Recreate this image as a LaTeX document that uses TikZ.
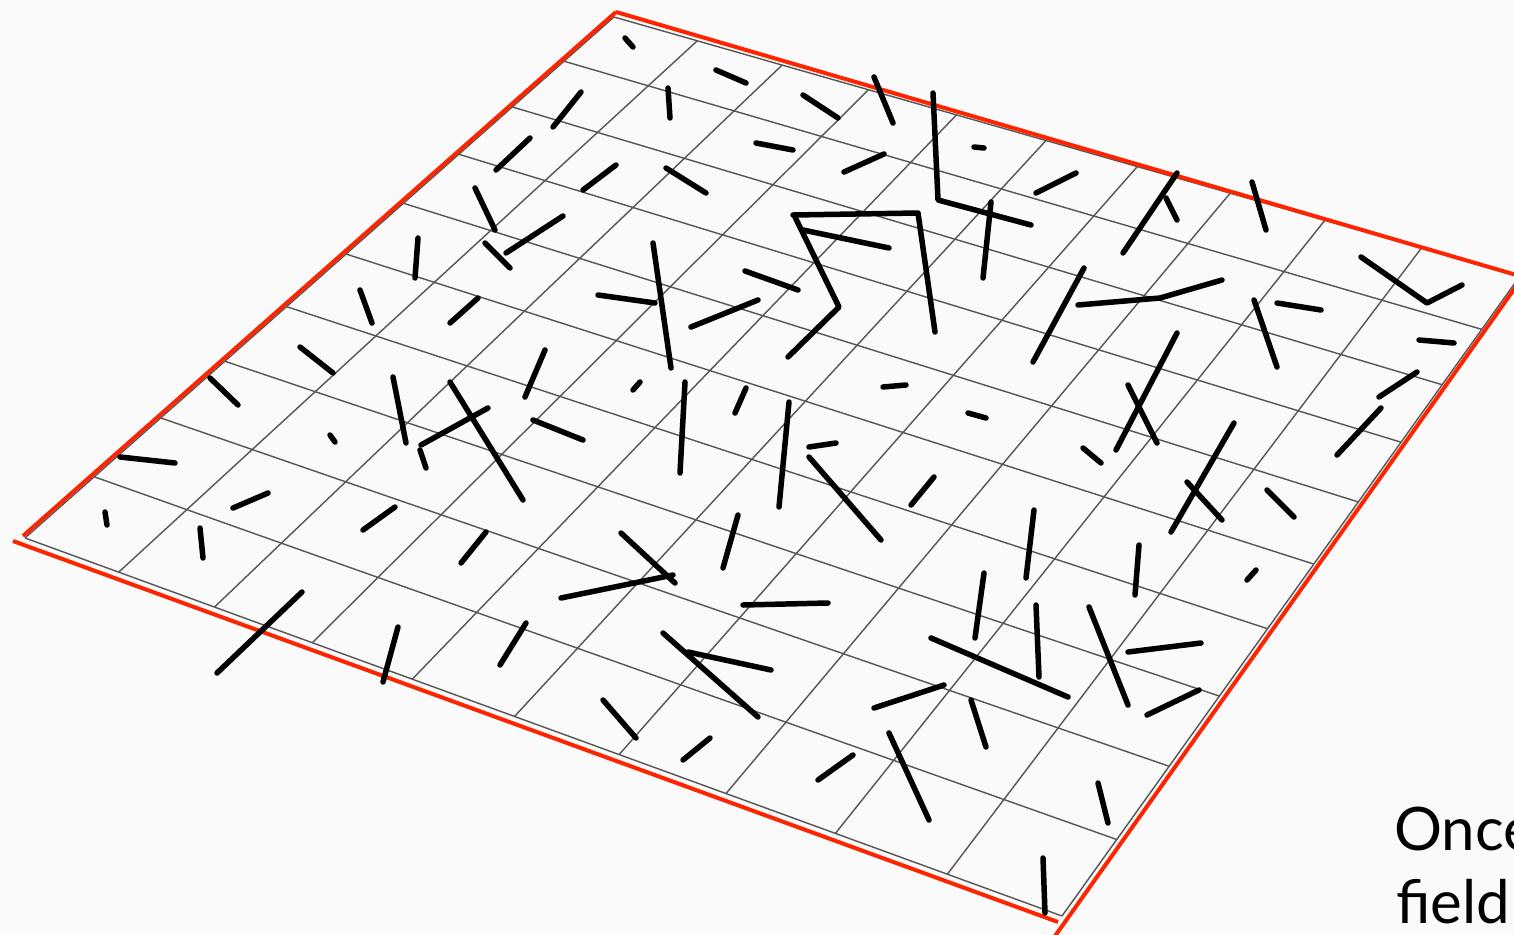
\documentclass[tikz,border=0pt]{standalone}
\usepackage{fontspec}
\newfontfamily\labelfont{Lato}
\definecolor{bgc}{RGB}{250,250,250}
\definecolor{edgered}{RGB}{255,36,0}
\definecolor{gridgray}{RGB}{85,85,85}
\tikzset{
  gridline/.style={draw=gridgray, line width=1.4pt},
  rededge/.style={draw=edgered, line width=4pt, line cap=butt},
  seg/.style={draw=black, line width=5.5pt, line cap=round, line join=round},
  lbl/.style={font=\labelfont\fontsize{60}{73}\selectfont, inner sep=0pt, anchor=base west, text=black}
}
\begin{document}
\begin{tikzpicture}[x=1pt,y=-1pt]
\useasboundingbox (0,0) rectangle (1514,934);
\clip (0,0) rectangle (1514,934);
\fill[bgc] (0,0) rectangle (1514,934);
% --- homography of the unit square onto the grid quadrilateral (units of 100 px) ---
\pgfmathsetmacro\xA{6.14}\pgfmathsetmacro\yA{0.17}
\pgfmathsetmacro\xB{15.20}\pgfmathsetmacro\yB{2.76}
\pgfmathsetmacro\xC{10.62}\pgfmathsetmacro\yC{9.16}
\pgfmathsetmacro\xD{0.25}\pgfmathsetmacro\yD{5.38}
\pgfmathsetmacro\DxA{\xB-\xC}\pgfmathsetmacro\DxB{\xD-\xC}
\pgfmathsetmacro\DyA{\yB-\yC}\pgfmathsetmacro\DyB{\yD-\yC}
\pgfmathsetmacro\Sx{\xA-\xB+\xC-\xD}\pgfmathsetmacro\Sy{\yA-\yB+\yC-\yD}
\pgfmathsetmacro\Den{\DxA*\DyB-\DxB*\DyA}
\pgfmathsetmacro\Hg{(\Sx*\DyB-\DxB*\Sy)/\Den}
\pgfmathsetmacro\Hh{(\DxA*\Sy-\Sx*\DyA)/\Den}
\pgfmathsetmacro\Ha{\xB-\xA+\Hg*\xB}
\pgfmathsetmacro\Hb{\xD-\xA+\Hh*\xD}
\pgfmathsetmacro\Hd{\yB-\yA+\Hg*\yB}
\pgfmathsetmacro\He{\yD-\yA+\Hh*\yD}
% lines of constant u
\foreach \i in {0,...,10}{
  \pgfmathsetmacro\uu{\i/10}
  \pgfmathsetmacro\wa{1+\Hg*\uu}
  \pgfmathsetmacro\pxa{100*(\Ha*\uu+\xA)/\wa}
  \pgfmathsetmacro\pya{100*(\Hd*\uu+\yA)/\wa}
  \pgfmathsetmacro\wb{1+\Hg*\uu+\Hh}
  \pgfmathsetmacro\pxb{100*(\Ha*\uu+\Hb+\xA)/\wb}
  \pgfmathsetmacro\pyb{100*(\Hd*\uu+\He+\yA)/\wb}
  \draw[gridline] (\pxa,\pya) -- (\pxb,\pyb);
}
% lines of constant v
\foreach \i in {0,...,10}{
  \pgfmathsetmacro\vv{\i/10}
  \pgfmathsetmacro\wa{1+\Hh*\vv}
  \pgfmathsetmacro\pxa{100*(\Hb*\vv+\xA)/\wa}
  \pgfmathsetmacro\pya{100*(\He*\vv+\yA)/\wa}
  \pgfmathsetmacro\wb{1+\Hg+\Hh*\vv}
  \pgfmathsetmacro\pxb{100*(\Ha+\Hb*\vv+\xA)/\wb}
  \pgfmathsetmacro\pyb{100*(\Hd+\He*\vv+\yA)/\wb}
  \draw[gridline] (\pxa,\pya) -- (\pxb,\pyb);
}
% --- red edges ---
\draw[rededge] (616,12) -- (1530,279);
\draw[rededge] (616,12) -- (23,536);
\draw[rededge] (13,541) -- (1058,922);
\draw[rededge] (1549,240) -- (1055,936);
% --- black segments ---
\foreach \ax/\ay/\bx/\by in {
625/38/633/47, 716/70/746/83, 668/88/670/118, 553/127/581/92,
803/95/838/118, 874/77/893/123, 974/147/984/148, 756/143/793/150,
844/172/884/154, 583/190/616/165, 666/168/706/193, 496/170/530/138,
475/188/495/230, 506/253/563/216, 485/243/510/268, 418/238/415/278,
1036/193/1076/173, 991/202/983/278, 1123/253/1177/173, 1166/198/1177/220,
1252/182/1266/230, 803/230/889/248, 653/243/671/368, 598/295/655/303,
745/271/798/290, 691/327/758/300, 360/290/372/323, 450/323/478/298,
1033/362/1084/268, 1254/300/1277/367, 1277/303/1321/310, 1419/340/1454/343,
1379/397/1417/372, 1337/455/1381/408, 300/347/333/373, 210/378/238/405,
330/435/335/442, 120/457/175/463, 233/508/268/493, 105/512/107/525,
200/528/203/558, 363/530/395/507, 217/673/302/592, 393/377/406/443,
450/382/523/500, 421/445/488/408, 420/450/426/468, 525/397/545/350,
533/420/583/440, 633/390/640/382, 685/382/680/473, 735/413/746/388,
461/563/486/532, 621/533/675/583, 561/598/673/575, 723/568/738/515,
743/605/828/603, 883/387/906/385, 968/413/986/418, 789/402/779/507,
809/447/836/443, 809/457/881/540, 911/505/934/477, 1034/510/1026/578,
1083/448/1101/463, 1116/450/1177/333, 1128/385/1157/443, 984/573/975/638,
1036/605/1039/677, 1089/607/1128/705, 1139/545/1135/595, 1267/490/1294/517,
1247/580/1256/570, 1171/532/1234/423, 1187/482/1222/520, 398/627/383/682,
500/665/526/623, 663/633/758/717, 688/652/771/670, 603/700/636/738,
683/760/710/738, 931/638/1068/697, 874/708/944/685, 971/700/986/747,
818/780/853/755, 889/733/929/820, 1098/783/1108/823, 1043/858/1045/913,
1128/652/1201/643, 1147/715/1199/690}
  \draw[seg] (\ax,\ay) -- (\bx,\by);
\draw[seg] (933,93) -- (938,200) -- (1031,225);
\draw[seg] (793,215) -- (918,213) -- (935,332);
\draw[seg] (795,217) -- (839,307) -- (788,357);
\draw[seg] (1078,305) -- (1160,298) -- (1222,280);
\draw[seg] (1361,257) -- (1427,303) -- (1462,285);
% --- text (cut off by the right edge, as in the reference) ---
\node[lbl] (t1) at (1394,850) {Once};
\node[lbl] (t2) at (1396,923) {field};
\end{tikzpicture}
\end{document}
